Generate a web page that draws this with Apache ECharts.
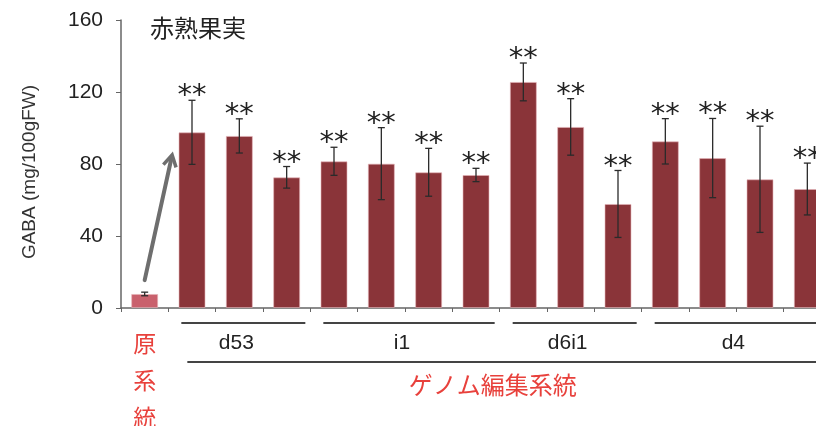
<!DOCTYPE html>
<html>
<head>
<meta charset="utf-8">
<script src="https://cdn.jsdelivr.net/npm/echarts@6/dist/echarts.min.js"></script>
<style>
  html, body { margin: 0; padding: 0; background: #fff; }
  #chart { width: 816px; height: 426px; }
</style>
</head>
<body>
<div id="chart"></div>
<script>
// 各系統のGABA含量 (mg/100gFW) と標準偏差
var categories = ['原系統', 'd53-1', 'd53-2', 'd53-3', 'i1-1', 'i1-2', 'i1-3', 'i1-4',
    'd6i1-1', 'd6i1-2', 'd6i1-3', 'd4-1', 'd4-2', 'd4-3', 'd4-4'];
var gaba = [7.8, 97.6, 95.6, 72.6, 81.5, 80.2, 75.4, 73.9, 125.6, 100.6, 57.8, 92.6, 83.3, 71.5, 66.1];
var sd = [1, 17.8, 9.5, 6, 7.8, 20, 13.3, 3.7, 10.5, 15.7, 18.6, 12.6, 22, 29.5, 14.4];
var marks = ['', '**', '**', '**', '**', '**', '**', '**', '**', '**', '**', '**', '**', '**', '**'];
var yTicks = [0, 40, 80, 120, 160];

// 系統グループ [最初のindex, 最後のindex, 名前]
var groups = [[1, 3, 'd53'], [4, 7, 'i1'], [8, 10, 'd6i1'], [11, 14, 'd4']];
var arrowFrom = [0, 15.5];
var arrowTo = [0.58, 85];

var chart = echarts.init(document.getElementById('chart'));

var barData = gaba.map(function (v, i) {
    return {
        value: v,
        itemStyle: { color: i === 0 ? '#C9616D' : '#8A3439' }
    };
});

var errData = gaba.map(function (v, i) {
    return [i, v - sd[i], v + sd[i]];
});

function renderError(params, api) {
    var i = api.value(0);
    var lo = api.coord([i, api.value(1)]);
    var hi = api.coord([i, api.value(2)]);
    var cap = 3.5;
    var st = { stroke: '#2a2a2a', lineWidth: 1.3 };
    var children = [
        { type: 'line', shape: { x1: hi[0], y1: hi[1], x2: lo[0], y2: lo[1] }, style: st },
        { type: 'line', shape: { x1: hi[0] - cap, y1: hi[1], x2: hi[0] + cap, y2: hi[1] }, style: st },
        { type: 'line', shape: { x1: lo[0] - cap, y1: lo[1], x2: lo[0] + cap, y2: lo[1] }, style: st }
    ];
    if (marks[i]) {
        children.push({
            type: 'text',
            style: {
                text: marks[i], x: hi[0], y: hi[1] + 11,
                align: 'center', verticalAlign: 'bottom',
                fontSize: 29, fontFamily: 'DejaVu Sans', fill: '#222'
            }
        });
    }
    return { type: 'group', children: children };
}

function renderGroups(params, api) {
    var a = api.value(0), b = api.value(1);
    var band = api.size([1, 0])[0];
    var p0 = api.coord([a, 0]);
    var p1 = api.coord([b, 0]);
    var x0 = p0[0] - band / 2 + 13;
    var x1 = p1[0] + band / 2 - 5;
    var y = p0[1];
    var children = [
        { type: 'line', shape: { x1: x0, y1: y + 15, x2: x1, y2: y + 15 }, style: { stroke: '#444', lineWidth: 2 } },
        {
            type: 'text',
            style: {
                text: groups[params.dataIndex][2], x: (p0[0] + p1[0]) / 2 - 3, y: y + 35,
                align: 'center', verticalAlign: 'middle',
                fontSize: 21, fontFamily: 'Liberation Sans', fill: '#222'
            }
        }
    ];
    if (params.dataIndex === 0) {
        var last = api.coord([categories.length - 1, 0]);
        var lx0 = p0[0] - band / 2 + 19;
        var lx1 = last[0] + band / 2;
        children.push(
            { type: 'line', shape: { x1: lx0, y1: y + 54, x2: lx1, y2: y + 54 }, style: { stroke: '#444', lineWidth: 2 } },
            {
                type: 'text',
                style: {
                    text: 'ゲノム編集系統', x: (lx0 + 816) / 2 - 9, y: y + 77,
                    align: 'center', verticalAlign: 'middle',
                    fontSize: 24, fontFamily: 'Noto Sans CJK JP', fill: '#E8413C'
                }
            }
        );
    }
    return { type: 'group', children: children };
}

function renderArrow(params, api) {
    var band = api.size([1, 0])[0];
    var s = api.coord([Math.floor(arrowFrom[0]), arrowFrom[1]]);
    var e = api.coord([Math.floor(arrowTo[0]), arrowTo[1]]);
    s[0] += (arrowFrom[0] % 1) * band;
    e[0] += (arrowTo[0] % 1) * band;
    var ang = Math.atan2(e[1] - s[1], e[0] - s[0]);
    var len = 13, spread = Math.PI / 6;
    var h1 = [e[0] - len * Math.cos(ang - spread), e[1] - len * Math.sin(ang - spread)];
    var h2 = [e[0] - len * Math.cos(ang + spread), e[1] - len * Math.sin(ang + spread)];
    return {
        type: 'group',
        children: [
            { type: 'line', shape: { x1: s[0], y1: s[1], x2: e[0] - 2 * Math.cos(ang), y2: e[1] - 2 * Math.sin(ang) }, style: { stroke: '#6e6e6e', lineWidth: 4, lineCap: 'round' } },
            { type: 'polyline', shape: { points: [h1, e, h2] }, style: { stroke: '#6e6e6e', lineWidth: 3.5, fill: null, lineJoin: 'miter' } }
        ]
    };
}

chart.setOption({
    animation: false,
    title: {
        text: '赤熟果実',
        left: 145,
        top: 11,
        textStyle: { fontSize: 24, fontWeight: 'normal', color: '#222', fontFamily: 'Noto Sans CJK JP' }
    },
    grid: { left: 121, top: 20, width: 710, height: 288, outerBoundsMode: 'none', containLabel: false },
    xAxis: {
        type: 'category',
        data: categories,
        axisLine: { lineStyle: { color: '#666', width: 1.5 } },
        axisTick: { show: true, length: 4, lineStyle: { color: '#666' } },
        axisLabel: {
            interval: 0,
            margin: 17,
            color: '#E8413C',
            fontSize: 23,
            lineHeight: 37,
            fontFamily: 'Noto Sans CJK JP',
            formatter: function (v, i) { return i === 0 ? v.split('').join('\n') : ''; }
        }
    },
    yAxis: {
        type: 'value',
        min: yTicks[0],
        max: yTicks[yTicks.length - 1],
        interval: yTicks[1] - yTicks[0],
        name: 'GABA (mg/100gFW)',
        nameLocation: 'middle',
        nameGap: 82,
        nameTextStyle: { fontSize: 19, color: '#333', fontFamily: 'Liberation Sans', padding: [0, 16, 0, 0] },
        axisLine: { show: true, lineStyle: { color: '#666', width: 1.5 } },
        axisTick: { show: true, length: 5, lineStyle: { color: '#666' } },
        axisLabel: { fontSize: 21, color: '#222', margin: 18, fontFamily: 'Liberation Sans' },
        splitLine: { show: false }
    },
    series: [
        {
            type: 'bar',
            data: barData,
            barWidth: 27,
            itemStyle: { borderColor: 'rgba(230,180,185,0.6)', borderWidth: 1 }
        },
        {
            type: 'custom',
            renderItem: renderError,
            data: errData,
            encode: { x: 0, y: [1, 2] },
            z: 3
        },
        {
            type: 'custom',
            renderItem: renderArrow,
            data: [[0]],
            z: 4
        },
        {
            type: 'custom',
            renderItem: renderGroups,
            data: groups.map(function (g) { return [g[0], g[1]]; }),
            encode: { x: [0, 1] },
            clip: false,
            z: 5
        }
    ]
});
</script>
</body>
</html>
